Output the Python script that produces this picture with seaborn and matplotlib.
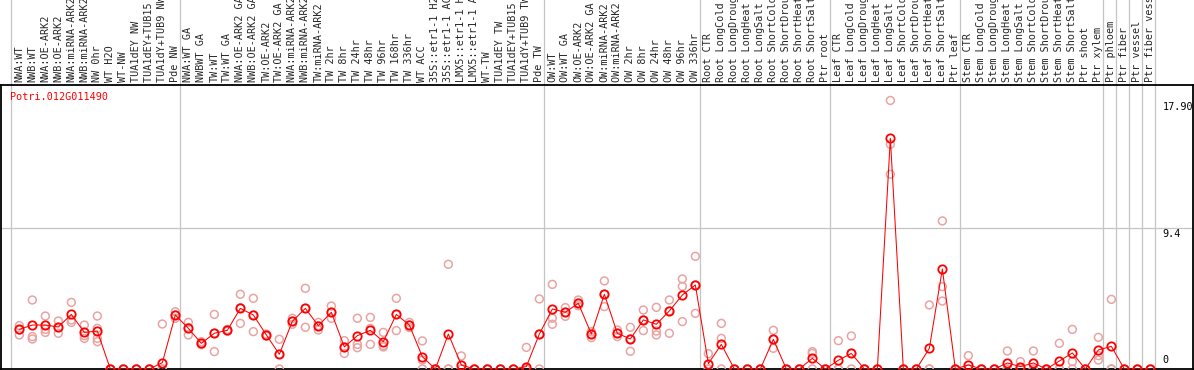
import numpy as np
import pandas as pd
import matplotlib
matplotlib.use("Agg")
import matplotlib.pyplot as plt
import matplotlib.transforms as mtransforms
import seaborn as sns

gene = "Potri.012G011490"

# sample names, in the order they are drawn
labels = [
    # NW
    "NWA:WT", "NWB:WT", "NWA:OE-ARK2", "NWB:OE-ARK2", "NWA:miRNA-ARK2", "NWB:miRNA-ARK2",
    "NW 0hr", "WT H2O", "WT-NW", "TUA1dEY NW", "TUA1dEY+TUB15 NW", "TUA1dY+TUB9 NW", "Pde NW",
    # TW
    "NWA:WT GA", "NWBWT GA", "TW:WT", "TW:WT GA", "NWA:OE-ARK2 GA", "NWB:OE-ARK2 GA",
    "TW:OE-ARK2", "TW:OE-ARK2 GA", "NWA:miRNA-ARK2 GA", "NWB:miRNA-ARK2 GA", "TW:miRNA-ARK2",
    "TW 2hr", "TW 8hr", "TW 24hr", "TW 48hr", "TW 96hr", "TW 168hr", "TW 336hr", "WT ACC",
    "35S::etr1-1 H2O", "35S::etr1-1 ACC", "LMX5::etr1-1 H2O", "LMX5::etr1-1 ACC", "WT-TW",
    "TUA1dEY TW", "TUA1dEY+TUB15 TW", "TUA1dY+TUB9 TW", "Pde TW",
    # OW
    "OW:WT", "OW:WT GA", "OW:OE-ARK2", "OW:OE-ARK2 GA", "OW:miRNA-ARK2", "OW:miRNA-ARK2 GA",
    "OW 2hr", "OW 8hr", "OW 24hr", "OW 48hr", "OW 96hr", "OW 336hr",
    # Root
    "Root CTR", "Root LongCold", "Root LongDrought", "Root LongHeat", "Root LongSalt",
    "Root ShortCold", "Root ShortDrought", "Root ShortHeat", "Root ShortSalt", "Ptr root",
    # Leaf
    "Leaf CTR", "Leaf LongCold", "Leaf LongDrought", "Leaf LongHeat", "Leaf LongSalt",
    "Leaf ShortCold", "Leaf ShortDrought", "Leaf ShortHeat", "Leaf ShortSalt", "Ptr leaf",
    # Stem
    "Stem CTR", "Stem LongCold", "Stem LongDrought", "Stem LongHeat", "Stem LongSalt",
    "Stem ShortCold", "Stem ShortDrought", "Stem ShortHeat", "Stem ShortSalt", "Ptr shoot",
    "Ptr xylem",
    # single tissues
    "Ptr phloem", "Ptr fiber", "Ptr vessel", "Ptr fiber vessel",
]

group_sizes = [13, 28, 12, 10, 10, 11, 1, 1, 1, 1]

# mean expression per sample
means = [
    2.64, 2.93, 2.93, 2.80, 3.64, 2.44, 2.53, 0, 0, 0, 0, 0.42, 3.60,
    2.71, 1.71, 2.38, 2.58, 4.04, 3.60, 2.27, 0.98, 3.18, 4.04, 2.89, 3.78, 1.47, 2.22,
    2.58, 1.82, 3.64, 2.93, 0.82, 0, 2.33, 0.27, 0, 0, 0, 0, 0.16, 2.33,
    4.00, 3.78, 4.38, 2.33, 4.98, 2.38, 2.00, 3.27, 2.98, 3.87, 4.93, 5.60,
    0.36, 1.64, 0, 0, 0, 1.98, 0, 0, 0.71, 0,
    0.58, 1.04, 0, 0, 15.38, 0, 0, 1.38, 6.67, 0,
    0.27, 0, 0, 0.40, 0.16, 0.40, 0, 0.53, 1.07, 0, 1.27,
    1.51, 0, 0, 0,
]

# individual replicates per sample
reps = [
    [2.89, 2.60, 2.27], [4.60, 2.16, 2.00], [3.53, 2.64, 2.44], [3.20, 2.76, 2.38],
    [4.44, 3.27, 3.11], [2.93, 2.22, 2.04], [3.53, 2.71, 2.04, 1.82], [0, 0, 0],
    [0, 0, 0], [0, 0, 0], [0, 0, 0], [3.00, 0, 0], [3.82, 3.60, 3.38],
    [3.11, 2.76, 2.27], [1.82, 1.69, 1.62], [3.64, 2.38, 1.16], [2.64, 2.58, 2.53],
    [4.98, 4.09, 3.04], [4.71, 3.60, 2.49], [2.33, 2.27, 2.20], [1.98, 0.98, 0],
    [3.38, 3.18, 2.98], [5.38, 4.04, 2.78], [3.11, 2.89, 2.60], [4.20, 3.78, 3.38],
    [1.89, 1.47, 1.04], [3.38, 1.64, 1.42], [3.44, 2.71, 1.64], [2.44, 1.56, 1.47],
    [4.71, 3.64, 2.56], [3.11, 2.93, 2.76], [1.87, 0.60, 0], [0, 0, 0],
    [6.98, 0, 0], [0.87, 0, 0], [0, 0, 0], [0, 0, 0], [0, 0, 0], [0, 0, 0],
    [1.44, 0, 0], [4.67, 2.33, 0],
    [5.64, 3.38, 2.98], [4.09, 3.78, 3.51], [4.60, 4.38, 4.22], [2.49, 2.33, 2.09],
    [5.87, 4.98, 4.16], [2.60, 2.38, 2.16], [2.78, 2.00, 1.18], [3.93, 3.27, 2.56],
    [4.11, 2.53, 2.27], [4.60, 3.87, 2.38], [6.00, 5.51, 3.16], [7.51, 5.60, 3.71],
    [1.02, 0, 0], [3.04, 2.04, 0], [0, 0, 0], [0, 0, 0], [0, 0, 0],
    [2.58, 1.98, 1.38], [0, 0, 0], [0, 0, 0], [1.16, 1.04, 0], [0, 0, 0],
    [1.89, 0, 0], [2.20, 1.04, 0], [0, 0, 0], [0, 0, 0], [17.90, 14.98, 12.98],
    [0, 0, 0], [0, 0, 0], [4.27, 0, 0], [9.87, 5.49, 4.53], [0, 0, 0],
    [0.89, 0, 0], [0, 0, 0], [0, 0, 0], [1.20, 0, 0], [0.49, 0, 0],
    [1.20, 0, 0], [0, 0, 0], [1.71, 0, 0], [2.64, 0.49, 0], [0, 0, 0],
    [2.11, 0.89, 0.60],
    [4.64, 0, 0], [0, 0, 0], [0, 0, 0], [0, 0, 0],
]

y_ticks = [0, 9.4, 17.90]
y_tick_text = ["0", "9.4", "17.90"]

sns.set_style("white")
plt.rcParams["font.family"] = ["DejaVu Sans Mono"]

pos = np.arange(len(labels))
mean_df = pd.DataFrame({"pos": pos, "value": means})
rep_df = pd.DataFrame(
    [(i, v) for i, vals in enumerate(reps) for v in vals], columns=["pos", "value"]
)

fig = plt.figure(figsize=(11.94, 3.70), dpi=100)
ax = fig.add_axes([1 / 1194, 1 / 370, 1192 / 1194, 284 / 370])

sns.scatterplot(data=rep_df, x="pos", y="value", ax=ax, marker="o", s=32,
                facecolors="none", edgecolor="#eaa3a3", linewidth=1.1, zorder=3)
sns.lineplot(data=mean_df, x="pos", y="value", ax=ax, sort=False, color="red",
             linewidth=0.75, marker="o", markersize=6.0, markerfacecolor="none",
             markeredgecolor="red", markeredgewidth=1.3, zorder=4)

ax.set_xlim(-1.41, 90.28)
ax.set_ylim(0, 18.93)

# group separators, running up through the label strip
starts = np.concatenate([[0], np.cumsum(group_sizes)])
trans = mtransforms.blended_transform_factory(ax.transData, ax.transAxes)
for s in starts:
    ax.plot([s - 0.62, s - 0.62], [0, 1.31], transform=trans, color="#c4c4c4",
            lw=0.9, clip_on=False, zorder=1)
ax.axhline(9.4, color="#c4c4c4", lw=0.9, zorder=1)

ax.xaxis.tick_top()
ax.set_xticks(pos)
ax.set_xticklabels(labels, rotation=90, fontsize=7.3)
ax.tick_params(axis="x", length=0, pad=2.5)
ax.set_yticks([])
ax.set_xlabel("")
ax.set_ylabel("")

ytrans = mtransforms.blended_transform_factory(ax.transAxes, ax.transData)
for v, t in zip(y_ticks, y_tick_text):
    ax.text(0.9745, v + (0.25 if v == 0 else -0.1), t, transform=ytrans, fontsize=7.3,
            ha="left", va="bottom" if v == 0 else "top", color="black")

ax.text(0.0075, 0.958, gene, transform=ax.transAxes, color="red", fontsize=7.3,
        ha="left", va="center")

for sp in ax.spines.values():
    sp.set_color("black")
    sp.set_linewidth(1.3)

fig.savefig("out.png", dpi=100)
